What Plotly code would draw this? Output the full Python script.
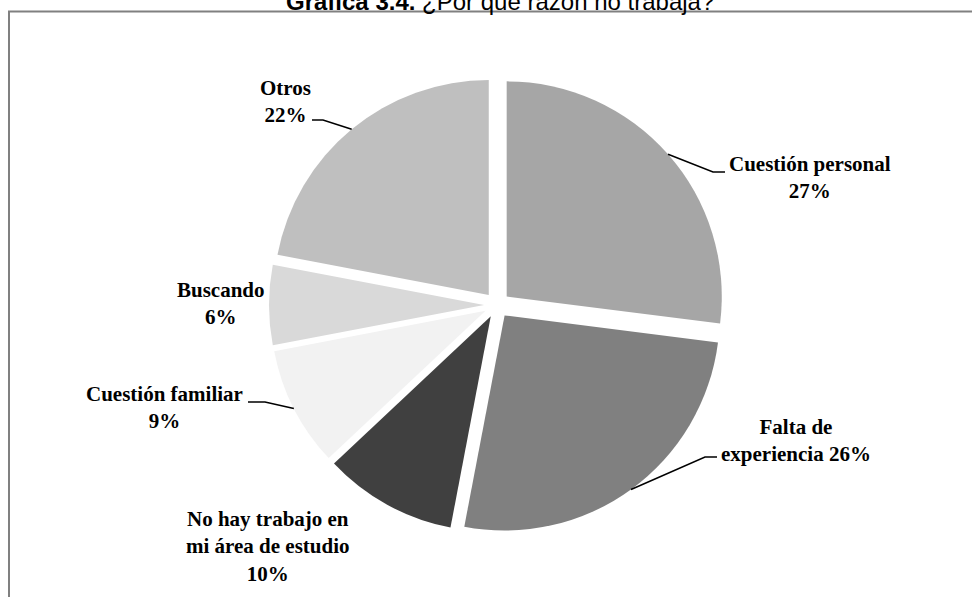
import math
import plotly.graph_objects as go

# ---- data ----
categories = ["Cuestión personal", "Falta de experiencia", "No hay trabajo en mi área de estudio",
              "Cuestión familiar", "Buscando", "Otros"]
values = [27, 26, 10, 9, 6, 22]
title_bold = "Gráfica 3.4."
title_rest = "¿Por qué razón no trabaja?"

# ---- styles / layout ----
W, H = 972, 597
colors = ["#a6a6a6", "#808080", "#404040", "#f2f2f2", "#d9d9d9", "#bfbfbf"]
PULL = 0.06
CX, CY, RMAX = 497, 305, 228  # pixel centre and outer extent of pie box

def px(x):
    return x / W

def py(y):
    return 1 - y / H

# how each label is broken into lines
label_fmt = [
    "{a}<br>{p}%",
    "Falta de<br>experiencia {p}%",
    "No hay trabajo en<br>mi área de estudio<br>{p}%",
    "{a}<br>{p}%",
    "{a}<br>{p}%",
    "{a}<br>{p}%",
]
label_pos = [(810, 177), (796, 440), (268, 546), (164, 407), (221, 303), (285, 101)]
# leader line elbows (None = no leader)
leaders = [((713, 172), (725, 172)), ((705, 457), (717, 457)), None,
           ((265, 402), (248, 402)), None, ((323, 120), (312, 120))]

fig = go.Figure(go.Pie(
    labels=categories, values=values, sort=False, direction="clockwise", rotation=0,
    pull=[PULL] * len(values), marker=dict(colors=colors, line=dict(width=0)),
    textinfo="none", showlegend=False,
    domain=dict(x=[px(CX - RMAX), px(CX + RMAX)], y=[py(CY + RMAX), py(CY - RMAX)]),
))

annotations = []
shapes = []
total = sum(values)
cum = 0
for i, (cat, v) in enumerate(zip(categories, values)):
    mid = (cum + v / 2) / total * 2 * math.pi
    cum += v
    txt = label_fmt[i].format(a=cat, p=v)
    txt = "<b>" + txt.replace("<br>", "</b><br><b>") + "</b>"
    lx, ly = label_pos[i]
    annotations.append(dict(text=txt, x=px(lx), y=py(ly), xref="paper", yref="paper",
                            xanchor="center", yanchor="middle", showarrow=False, align="center",
                            font=dict(family="Liberation Serif", size=21, color="#000000")))
    if leaders[i] is not None:
        ex = CX + RMAX * math.sin(mid)
        ey = CY - RMAX * math.cos(mid)
        (bx, by), (tx, ty) = leaders[i]
        path = f"M {px(ex)} {py(ey)} L {px(bx)} {py(by)} L {px(tx)} {py(ty)}"
        shapes.append(dict(type="path", path=path, xref="paper", yref="paper",
                           line=dict(color="#000000", width=1.5)))

# frame (top and left visible)
shapes.append(dict(type="rect", xref="paper", yref="paper", x0=px(9), y0=-0.2, x1=1.2, y1=py(11.5),
                   line=dict(color="#808080", width=2), fillcolor="rgba(0,0,0,0)", layer="below"))

annotations.append(dict(text=f"<b>{title_bold}</b> {title_rest}", x=px(500), y=py(1),
                        xref="paper", yref="paper", xanchor="center", yanchor="middle",
                        showarrow=False, font=dict(family="Liberation Sans", size=24, color="#000000")))

fig.update_layout(width=W, height=H, margin=dict(l=0, r=0, t=0, b=0),
                  paper_bgcolor="#ffffff", plot_bgcolor="#ffffff",
                  annotations=annotations, shapes=shapes)
fig.write_html("out.html", config={"displayModeBar": False},
               post_script="document.body.style.margin='0';document.body.style.overflow='hidden';")
